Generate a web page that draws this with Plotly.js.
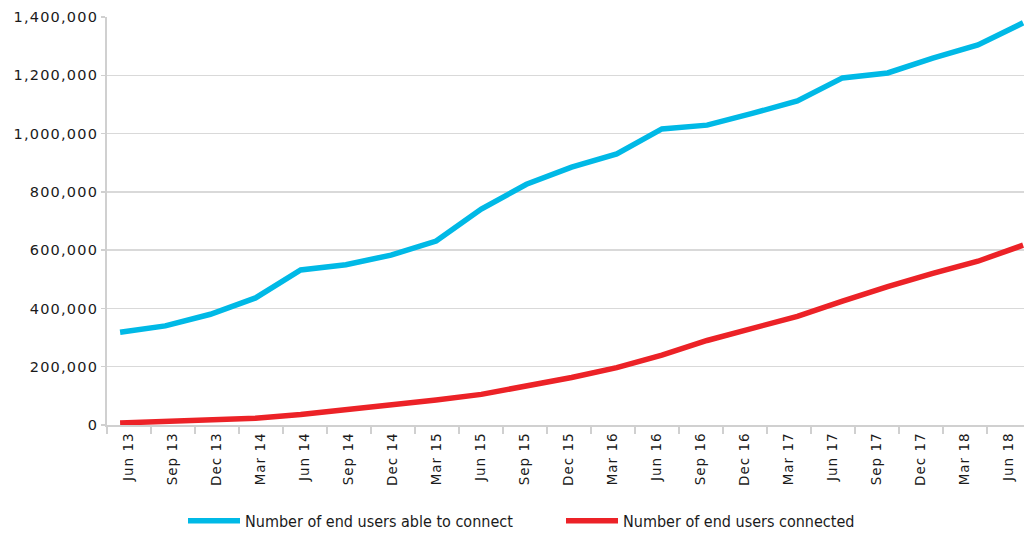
<!DOCTYPE html>
<html>
<head>
<meta charset="utf-8">
<script src="https://cdn.plot.ly/plotly-3.0.1.min.js"></script>
<style>
html,body{margin:0;padding:0;background:#fff;}
#chart{width:1024px;height:533px;}
#chart .ytick text{letter-spacing:1.2px;}
#chart .xtick text{letter-spacing:1px;}
</style>
</head>
<body>
<div id="chart"></div>
<script>
const quarters = ["Jun 13","Sep 13","Dec 13","Mar 14","Jun 14","Sep 14","Dec 14","Mar 15","Jun 15","Sep 15","Dec 15","Mar 16","Jun 16","Sep 16","Dec 16","Mar 17","Jun 17","Sep 17","Dec 17","Mar 18","Jun 18"];
const ableToConnect = [318000,340000,380000,436000,532000,550000,583000,631000,741000,826000,885000,930000,1016000,1029000,1069000,1112000,1191000,1208000,1259000,1304000,1380000];
const connected = [7000,11000,16000,23000,36000,52000,67000,86000,105000,133000,163000,197000,240000,290000,330000,373000,425000,475000,520000,562000,617000];
const yTicks = [0,200000,400000,600000,800000,1000000,1200000,1400000];

const traces = [
  {x: quarters, y: quarters.map(() => null), xaxis: 'x', yaxis: 'y', mode: 'lines', showlegend: false, hoverinfo: 'skip'},
  {x: quarters, y: ableToConnect, xaxis: 'x2', yaxis: 'y', mode: 'lines', name: 'Number of end users able to connect',
   line: {color: '#00b9e6', width: 5.5}},
  {x: quarters, y: connected, xaxis: 'x2', yaxis: 'y', mode: 'lines', name: 'Number of end users connected',
   line: {color: '#ec2227', width: 5.5}}
];

const layout = {
  width: 1024, height: 533,
  margin: {l: 107, r: 0, t: 17, b: 108, autoexpand: false},
  paper_bgcolor: '#fff', plot_bgcolor: '#fff',
  font: {family: '"DejaVu Sans", sans-serif', color: '#1a1a1a'},
  showlegend: true,
  xaxis: {
    type: 'category', categoryorder: 'array', categoryarray: quarters,
    range: [-0.5, 20.34], tickangle: -90, tickson: 'boundaries',
    ticks: 'outside', ticklen: 7, tickcolor: '#d0d0d0', tickwidth: 1.5,
    showgrid: false, zeroline: false, automargin: false,
    showline: true, linecolor: '#d0d0d0', linewidth: 2,
    tickfont: {size: 13.5, color: '#1a1a1a'}, fixedrange: true
  },
  xaxis2: {
    type: 'category', categoryorder: 'array', categoryarray: quarters,
    overlaying: 'x', range: [-0.29, 20.02], visible: false, fixedrange: true
  },
  yaxis: {
    range: [0, 1400000], tickvals: yTicks, tickformat: ',d', automargin: false,
    ticks: 'outside', ticklen: 4, tickcolor: '#d0d0d0', tickwidth: 1.5,
    showgrid: true, gridcolor: '#d9d9d9', gridwidth: 1.5,
    zeroline: false, showline: true, linecolor: '#d0d0d0', linewidth: 2,
    tickfont: {size: 14.5, color: '#1a1a1a'}, fixedrange: true
  },
  legend: {
    orientation: 'h', x: (183 - 107) / 917, xanchor: 'left', y: -0.235, yanchor: 'middle',
    font: {family: '"DejaVu Sans Condensed", "Liberation Sans Narrow", "Roboto", sans-serif', size: 16, color: '#1a1a1a'},
    entrywidth: 311, entrywidthmode: 'pixels', itemwidth: 52
  }
};

Plotly.newPlot('chart', traces, layout, {displayModeBar: false, staticPlot: true});
</script>
</body>
</html>
